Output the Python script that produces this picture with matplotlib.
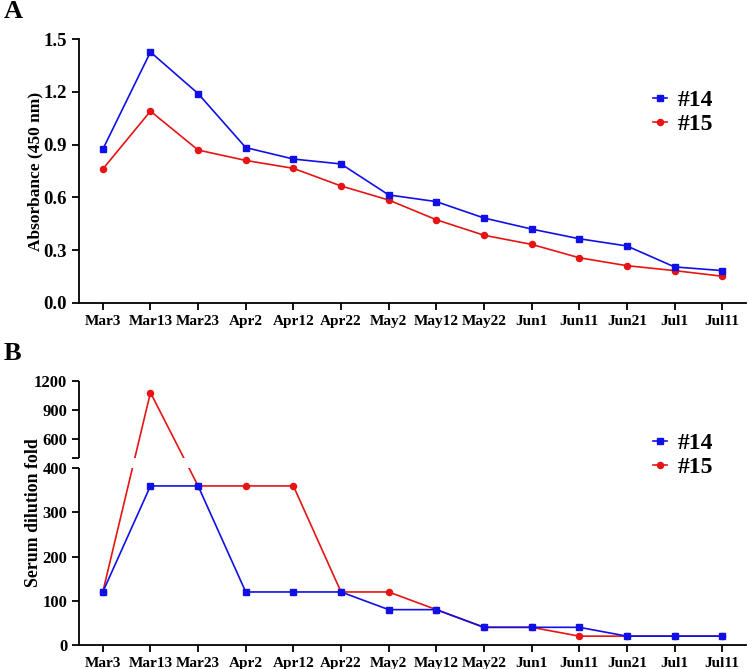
import matplotlib
matplotlib.use("Agg")
import numpy as np
import matplotlib.pyplot as plt

plt.rcParams["font.family"] = ["Liberation Serif", "DejaVu Serif"]
plt.rcParams["font.weight"] = "bold"

dates = ["Mar3", "Mar13", "Mar23", "Apr2", "Apr12", "Apr22", "May2", "May12",
         "May22", "Jun1", "Jun11", "Jun21", "Jul1", "Jul11"]

# panel A: absorbance at 450 nm
abs_14 = [0.873, 1.426, 1.19, 0.883, 0.818, 0.79, 0.614, 0.576, 0.483, 0.42,
          0.365, 0.324, 0.205, 0.184]
abs_15 = [0.761, 1.09, 0.869, 0.81, 0.765, 0.665, 0.585, 0.473, 0.385, 0.333,
          0.257, 0.212, 0.184, 0.152]

# panel B: serum dilution fold
dil_14 = [120, 360, 360, 120, 120, 120, 80, 80, 40, 40, 40, 20, 20, 20]
dil_15 = [120, 1080, 360, 360, 360, 120, 120, 80, 40, 40, 20, 20, 20, 20]

BLUE = "#1010e6"
RED = "#e61414"
x = list(range(len(dates)))

# broken axis for B: 0-400 linear, gap, then 400-1200 compressed
BREAK = 400.0
GAP = 22.6
K = 0.2187


def fwd(y):
    y = np.asarray(y, dtype=float)
    return np.where(y <= BREAK, y, BREAK + GAP + (y - BREAK) * K)


def inv(t):
    t = np.asarray(t, dtype=float)
    return np.where(t <= BREAK, t,
                    np.where(t < BREAK + GAP, BREAK, BREAK + (t - BREAK - GAP) / K))


def style_axis(ax):
    for s in ["top", "right"]:
        ax.spines[s].set_visible(False)
    ax.spines["left"].set_linewidth(1.3)
    ax.spines["bottom"].set_linewidth(1.3)
    ax.tick_params(direction="out", width=1.3, length=5)
    ax.set_xlim(-0.5, 13.5)
    ax.set_xticks(x)
    ax.set_xticklabels(dates, fontsize=11, fontweight="bold")


def plot_pair(ax, y14, y15):
    ax.plot(x, y14, color=BLUE, marker="s", markersize=4.8, lw=1.2,
            label="#14", zorder=3)
    ax.plot(x, y15, color=RED, marker="o", markersize=4.4, lw=1.2,
            label="#15", zorder=2)


fig = plt.figure(figsize=(7.5, 6.69), dpi=100)

# --- A ---
axA = fig.add_axes([0.1053, 0.5471, 0.8894, 0.3946])
plot_pair(axA, abs_14, abs_15)
style_axis(axA)
axA.set_ylim(0, 1.5)
axA.set_yticks([0.0, 0.3, 0.6, 0.9, 1.2, 1.5])
axA.set_yticklabels(["0.0", "0.3", "0.6", "0.9", "1.2", "1.5"],
                    fontsize=13.5, fontweight="bold")
fig.text(35 / 750, 1 - 171 / 669, "Absorbance (450 nm)", rotation=90,
         fontsize=12.5, fontweight="bold", ha="center", va="center")
axA.legend(loc="upper left", bbox_to_anchor=(641 / 750, 1 - 78 / 669),
           bbox_transform=fig.transFigure, frameon=False,
           handlelength=0.6, handletextpad=0.45, borderpad=0, labelspacing=0.1,
           prop={"size": 17, "weight": "bold"})

# --- B (one axes with a broken y scale) ---
axB = fig.add_axes([0.1053, 0.0359, 0.8894, 0.3946])
axB.set_yscale("function", functions=(fwd, inv))
plot_pair(axB, dil_14, dil_15)
style_axis(axB)
axB.set_ylim(0, 1200)
axB.set_yticks([0, 100, 200, 300, 400, 400.001, 600, 900, 1200])
axB.set_yticklabels(["0", "100", "200", "300", "400", "", "600", "900", "1200"],
                    fontsize=12, fontweight="bold")
axB.yaxis.set_minor_locator(matplotlib.ticker.NullLocator())
# white band hides the lines inside the break
axB.axhspan(399.5, 401, color="white", zorder=5, lw=0)
# split left spine
axB.spines["left"].set_visible(False)
ytr = axB.get_yaxis_transform()
axB.plot([0, 0], [0, 400], transform=ytr, color="black", lw=1.3,
         clip_on=False, zorder=6, solid_capstyle="butt")
axB.plot([0, 0], [400.001, 1200], transform=ytr, color="black", lw=1.3,
         clip_on=False, zorder=6, solid_capstyle="butt")
fig.text(33.5 / 750, 1 - 513 / 669, "Serum dilution fold", rotation=90,
         fontsize=12.8, fontweight="bold", ha="center", va="center")
h, l = axA.get_legend_handles_labels()
fig.legend(h, l, loc="upper left", bbox_to_anchor=(641 / 750, 1 - 421 / 669),
           bbox_transform=fig.transFigure, frameon=False,
           handlelength=0.6, handletextpad=0.45, borderpad=0, labelspacing=0.1,
           prop={"size": 17, "weight": "bold"})

fig.text(0.005, 1 - 12 / 669, "A", fontsize=19, fontweight="bold", va="center")
fig.text(0.005, 1 - 353 / 669, "B", fontsize=19, fontweight="bold", va="center")

fig.savefig("out.png", dpi=100)
